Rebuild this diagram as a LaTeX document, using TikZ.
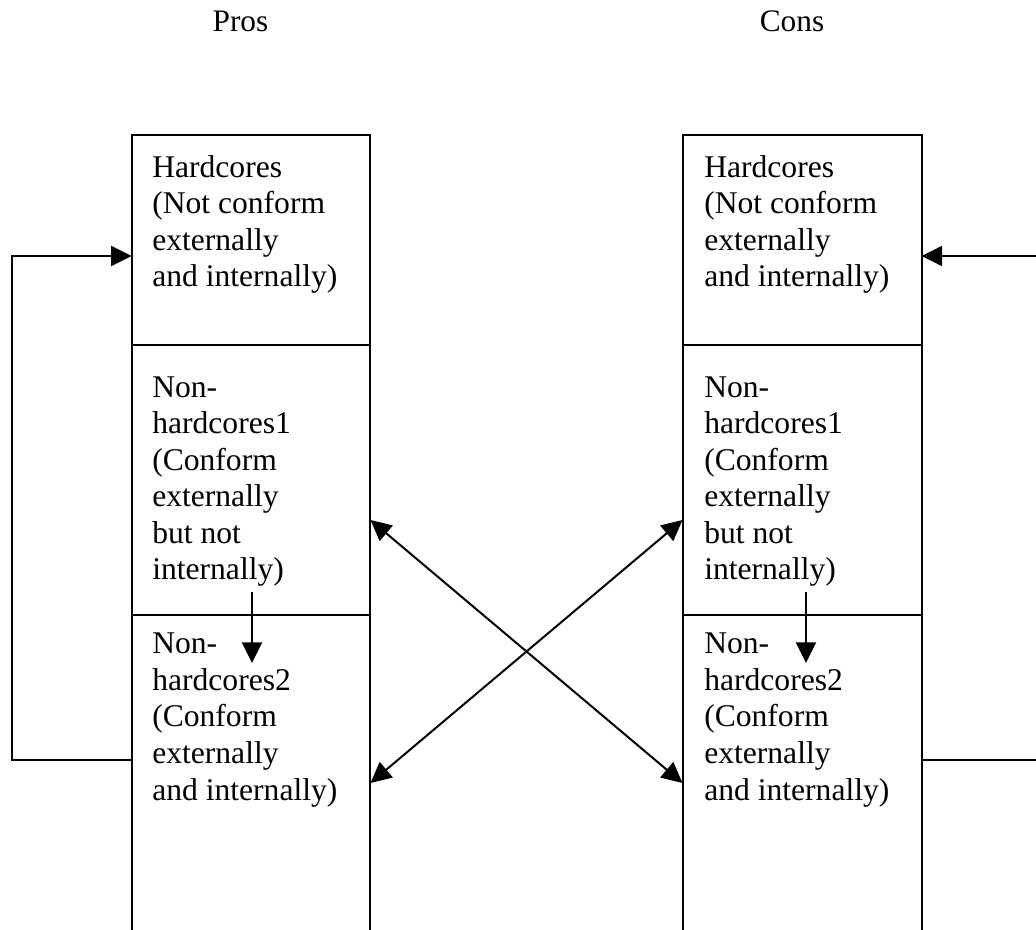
\documentclass[tikz,border=0pt]{standalone}
\usepackage{fontspec}
\setmainfont{Liberation Serif}
\usetikzlibrary{arrows.meta}
\begin{document}
\begin{tikzpicture}[x=0.75pt,y=-0.75pt,
  ln/.style={line width=1.5pt},
  tip/.style={-{Triangle[length=15.5pt,width=15pt]}},
  dtip/.style={{Triangle[length=15.5pt,width=15pt]}-{Triangle[length=15.5pt,width=15pt]}},
  txt/.style={font=\fontsize{23.7}{27.4}\selectfont, align=left, anchor=base west, inner sep=0pt},
  head/.style={font=\fontsize{23.5}{27.4}\selectfont, anchor=base, inner sep=0pt}]
\clip (0,0) rectangle (1036,930);
\fill[white] (0,0) rectangle (1036,930);

% headings
\node[head] (pros) at (240.5,32) {Pros};
\node[head] (cons) at (792,32) {Cons};

% left column boxes
\coordinate (L1) at (131.7,135);
\coordinate (L2) at (369.5,345);
\coordinate (L3) at (131.7,615);
\coordinate (L4) at (369.5,945);
\draw[ln] (L1) rectangle (L2);
\draw[ln] (131.7,345) rectangle (369.5,615);
\draw[ln] (L3) rectangle (L4);
% right column boxes
\coordinate (R1) at (683,135);
\coordinate (R2) at (921.5,345);
\coordinate (R3) at (683,615);
\coordinate (R4) at (921.5,945);
\draw[ln] (R1) rectangle (R2);
\draw[ln] (683,345) rectangle (921.5,615);
\draw[ln] (R3) rectangle (R4);

% texts (anchored at the baseline of the last line)
\node[txt] (lh) at (152,287) {Hardcores\\(Not conform\\externally\\and internally)};
\node[txt] (ln1) at (152,580) {Non-\\hardcores1\\(Conform\\externally\\but not\\internally)};
\node[txt] (ln2) at (152,800) {Non-\\hardcores2\\(Conform\\externally\\and internally)};
\node[txt] (rh) at (704,287) {Hardcores\\(Not conform\\externally\\and internally)};
\node[txt] (rn1) at (704,580) {Non-\\hardcores1\\(Conform\\externally\\but not\\internally)};
\node[txt] (rn2) at (704,800) {Non-\\hardcores2\\(Conform\\externally\\and internally)};

% internal arrows
\coordinate (la) at (252,592);
\coordinate (lb) at (252,663);
\coordinate (ra) at (806,592);
\coordinate (rb) at (806,663);
\draw[ln,tip] (la) -- (lb);
\draw[ln,tip] (ra) -- (rb);

% crossing arrows
\coordinate (xlu) at (370.5,520);
\coordinate (xll) at (370.5,783);
\coordinate (xru) at (682.5,520);
\coordinate (xrl) at (682.5,783);
\draw[ln,dtip] (xlu) -- (xrl);
\draw[ln,dtip] (xll) -- (xru);

% left feedback loop
\coordinate (lfa) at (131.7,760);
\coordinate (lfb) at (12,760);
\coordinate (lfc) at (12,256);
\coordinate (lfd) at (131.7,256);
\draw[ln,tip] (lfa) -- (lfb) -- (lfc) -- (lfd);

% right feedback loop (cut by the border)
\coordinate (rfa) at (921.5,760);
\coordinate (rfb) at (1045,760);
\coordinate (rfc) at (1045,256);
\coordinate (rfd) at (921.5,256);
\draw[ln,tip] (rfa) -- (rfb) -- (rfc) -- (rfd);
\end{tikzpicture}
\end{document}
